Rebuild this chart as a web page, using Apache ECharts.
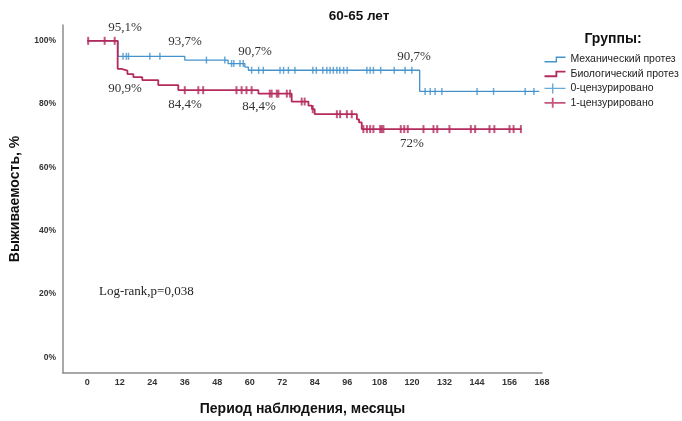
<!DOCTYPE html>
<html>
<head>
<meta charset="utf-8">
<script src="https://cdn.jsdelivr.net/npm/echarts@6/dist/echarts.min.js"></script>
<style>
html,body{margin:0;padding:0;background:#fff;}
#chart{width:682px;height:421px;}
</style>
</head>
<body>
<div id="chart"></div>
<script>
// ---- Data ----
const chartTitle = '60-65 лет';
const legendTitle = 'Группы:';
const seriesNames = ['Механический протез', 'Биологический протез', '0-цензурировано', '1-цензурировано'];

// Kaplan–Meier steps: time (months) and survival (%) after the event
const mechTimes = [0, 11.3, 36.0, 52.0, 58.2, 59.5, 122.8, 167.0];
const mechSurv  = [100, 95.1, 93.9, 92.8, 91.7, 90.7, 84.0, 84.0];

const bioTimes = [0, 11.2, 12.6, 14.8, 17.0, 20.3, 26.2, 33.6, 63.2, 75.5, 81.7, 83.0, 84.0, 99.6, 100.4, 101.4, 160.4];
const bioSurv  = [100, 91.1, 90.6, 89.5, 88.5, 87.6, 86.0, 84.4, 83.3, 80.8, 79.5, 78.4, 76.8, 75.2, 74.2, 72.1, 72.1];

// Censored observation times (months)
const mechCensored = [13.2, 14.4, 15.2, 23.1, 26.8, 44.0, 50.8, 53.3, 54.1, 56.4, 57.6, 60.7, 63.3, 65.0,
  71.2, 72.5, 74.3, 76.7, 83.3, 84.6, 87.0, 88.5, 89.7, 90.9, 92.2, 93.3, 94.7, 96.0, 103.3, 104.5, 105.7,
  108.4, 113.4, 117.4, 119.9, 124.8, 126.7, 128.5, 131.0, 144.0, 150.1, 161.8, 165.0];
const bioCensored = [0.3, 6.4, 10.1, 36.0, 41.0, 42.8, 55.1, 57.0, 58.8, 60.7, 67.4, 68.1, 70.0, 70.6, 73.7,
  74.9, 79.2, 80.3, 83.3, 92.2, 93.4, 95.9, 97.7, 102.0, 103.3, 104.5, 105.7, 108.2, 108.8, 109.4, 115.8,
  117.1, 118.4, 124.2, 127.9, 129.3, 133.8, 141.7, 143.3, 148.6, 150.4, 156.0, 157.5, 160.2];

// Axis ticks
const xTickStep = 12;
const yTickStep = 20;

// Annotation texts
const annotationTexts = ['95,1%', '93,7%', '90,7%', '90,9%', '84,4%', '84,4%', '90,7%', '72%'];
const logRankText = 'Log-rank,p=0,038';

// ---- Helpers ----
function stepPoints(times, surv) { return times.map((t, i) => [t, surv[i]]); }
function survAt(times, surv, t) {
  let v = surv[0];
  for (let i = 0; i < times.length; i++) { if (times[i] <= t) v = surv[i]; }
  return v;
}
function censorPoints(cens, times, surv) { return cens.map(t => [t, survAt(times, surv, t)]); }

const BLUE = '#4593cc';
const RED = '#b52a5c';
const SANS = 'Liberation Sans, Arial, sans-serif';

// annotation layout (pixels)
const annPos = [[125, 28], [185, 42], [255, 52], [125, 89], [185, 105], [259, 107], [414, 57], [412, 144]];
const annFont = '13px "Liberation Serif", "Times New Roman", serif';

const graphics = annotationTexts.map((txt, i) => ({
  type: 'text', silent: true,
  style: { text: txt, x: annPos[i][0], y: annPos[i][1], textAlign: 'center', textVerticalAlign: 'middle', font: annFont, fill: '#333' }
}));
graphics.push({
  type: 'text', silent: true,
  style: { text: logRankText, x: 99, y: 292, textAlign: 'left', textVerticalAlign: 'middle', font: annFont, fill: '#222' }
});

const chart = echarts.init(document.getElementById('chart'), null, { renderer: 'canvas' });

const option = {
  backgroundColor: '#ffffff',
  animation: false,
  title: [
    { text: chartTitle, left: 359, top: 9, textAlign: 'center', padding: 0,
      textStyle: { fontFamily: SANS, fontSize: 13.5, fontWeight: 'bold', color: '#111' } },
    { text: legendTitle, left: 613, top: 32, textAlign: 'center', padding: 0,
      textStyle: { fontFamily: SANS, fontSize: 14, fontWeight: 'bold', color: '#111' } }
  ],
  legend: {
    orient: 'vertical', left: 542, top: 52, padding: 0, itemWidth: 21, itemHeight: 11, itemGap: -0.6,
    textStyle: { fontFamily: SANS, fontSize: 10.5, color: '#222' },
    data: [
      { name: seriesNames[0], icon: 'path://M0,0 M0,8 L13,8 L13,3 L23,3 M23,11',
        itemStyle: { color: 'none', borderColor: BLUE, borderWidth: 1.4 } },
      { name: seriesNames[1], icon: 'path://M0,0 M0,8 L13,8 L13,3 L23,3 M23,11',
        itemStyle: { color: 'none', borderColor: RED, borderWidth: 1.8 } },
      { name: seriesNames[2], icon: 'path://M0,5.5 L23,5.5 M9,0 L9,11',
        itemStyle: { color: 'none', borderColor: BLUE, borderWidth: 1.4 } },
      { name: seriesNames[3], icon: 'path://M0,5.5 L23,5.5 M9,0 L9,11',
        itemStyle: { color: 'none', borderColor: RED, borderWidth: 1.8 } }
    ]
  },
  grid: { left: 62, right: 140, top: 25, bottom: 48, containLabel: false },
  xAxis: {
    type: 'value', min: -9, max: 168, interval: 3,
    name: 'Период наблюдения, месяцы', nameLocation: 'middle', nameGap: 29,
    nameTextStyle: { fontFamily: SANS, fontSize: 14, fontWeight: 'bold', color: '#111' },
    axisLine: { show: true, onZero: false, lineStyle: { color: '#8c8c8c', width: 1.5 } },
    axisTick: { show: false },
    splitLine: { show: false },
    axisLabel: {
      margin: 5, fontFamily: SANS, fontSize: 9, fontWeight: 'bold', color: '#333',
      formatter: v => (v >= 0 && Math.abs(v % xTickStep) < 1e-6) ? String(v) : ''
    }
  },
  yAxis: {
    type: 'value', min: -5, max: 105, interval: 5,
    name: 'Выживаемость, %', nameLocation: 'middle', nameGap: 41, nameRotate: 90,
    nameTextStyle: { fontFamily: SANS, fontSize: 14, fontWeight: 'bold', color: '#111' },
    axisLine: { show: true, onZero: false, lineStyle: { color: '#8c8c8c', width: 1.5 } },
    axisTick: { show: false },
    splitLine: { show: false },
    axisLabel: {
      margin: 7, fontFamily: SANS, fontSize: 8.5, fontWeight: 'bold', color: '#333',
      formatter: v => (v >= 0 && Math.abs(v % yTickStep) < 1e-6) ? v + '%' : ''
    }
  },
  graphic: graphics,
  series: [
    { name: seriesNames[0], type: 'line', step: 'end', showSymbol: false, symbol: 'none',
      data: stepPoints(mechTimes, mechSurv), lineStyle: { color: BLUE, width: 1.3 }, itemStyle: { color: BLUE }, z: 2 },
    { name: seriesNames[1], type: 'line', step: 'end', showSymbol: false, symbol: 'none',
      data: stepPoints(bioTimes, bioSurv), lineStyle: { color: RED, width: 1.8 }, itemStyle: { color: RED }, z: 3 },
    { name: seriesNames[2], type: 'scatter', symbol: 'rect', symbolSize: [1.5, 7],
      data: censorPoints(mechCensored, mechTimes, mechSurv), itemStyle: { color: BLUE }, z: 4 },
    { name: seriesNames[3], type: 'scatter', symbol: 'rect', symbolSize: [2, 8],
      data: censorPoints(bioCensored, bioTimes, bioSurv), itemStyle: { color: RED }, z: 5 }
  ]
};
chart.setOption(option);
</script>
</body>
</html>
